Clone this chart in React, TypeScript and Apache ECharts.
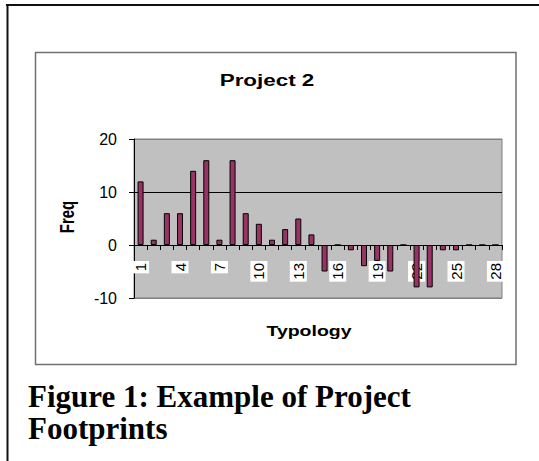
import React, { useEffect, useRef } from "react";
import * as echarts from "echarts";

const categories: string[] = Array.from({ length: 28 }, (_, i) => String(i + 1));
const freqValues: number[] = [
  12, 1, 6, 6, 14, 16, 1, 16, 6, 4, 1, 3, 5, 2,
  -5, 0, -1, -4, -3, -5, 0, -8, -8, -1, -1, 0, 0, 0,
];
const yTicks = { min: -10, max: 20, interval: 10 };
const titleText = "Project 2";
const xName = "Typology";
const yName = "Freq";
const captionLines = ["Figure 1: Example of Project", "Footprints"];

const SANS = 'Arial, "Liberation Sans", sans-serif';
const SERIF = '"Times New Roman", "Liberation Serif", serif';

const GRID_TOP = 139;
const GRID_BOTTOM = 163;
const GRID_H = 461 - GRID_TOP - GRID_BOTTOM;
// move the category axis from the grid bottom up to the value 0
const zeroOffset = -(GRID_H * (0 - yTicks.min)) / (yTicks.max - yTicks.min);

export default function App() {
  const ref = useRef<HTMLDivElement>(null);
  useEffect(() => {
    if (!ref.current) return;
    const chart = echarts.init(ref.current, undefined, { renderer: "svg" });
    chart.setOption({
      animation: false,
      backgroundColor: "#ffffff",
      grid: {
        left: 134,
        right: 37,
        top: GRID_TOP,
        bottom: GRID_BOTTOM,
        show: true,
        backgroundColor: "#c0c0c0",
        borderColor: "#808080",
        borderWidth: 1,
        containLabel: false,
      },
      xAxis: {
        type: "category",
        data: categories,
        boundaryGap: true,
        position: "bottom",
        offset: zeroOffset,
        axisLine: { show: true, onZero: false, lineStyle: { color: "#000", width: 1 } },
        axisTick: { show: true, interval: 0, alignWithLabel: false, length: 5, inside: false, lineStyle: { color: "#000" } },
        axisLabel: {
          interval: 2,
          rotate: 90,
          margin: 16,
          color: "#000",
          fontFamily: SANS,
          fontSize: 15,
          backgroundColor: "#ffffff",
          padding: [1, 2, 1, 2],
        },
        splitLine: { show: false },
      },
      yAxis: {
        type: "value",
        min: yTicks.min,
        max: yTicks.max,
        interval: yTicks.interval,
        axisLine: { show: true, onZero: false, lineStyle: { color: "#000", width: 1 } },
        axisTick: { show: true, length: 5, inside: false, lineStyle: { color: "#000" } },
        axisLabel: { margin: 17, color: "#000", fontFamily: SANS, fontSize: 16 },
        splitLine: {
          show: true,
          lineStyle: { color: ["#808080", "#000", "#000", "#808080"], width: 1 },
        },
      },
      series: [
        {
          type: "bar",
          data: freqValues,
          barWidth: 6,
          itemStyle: { color: "#993366", borderColor: "#000", borderWidth: 1 },
        },
      ],
      graphic: [
        {
          type: "line",
          shape: { x1: 6, y1: 5, x2: 539, y2: 5 },
          style: { stroke: "#111", lineWidth: 2 },
        },
        {
          type: "line",
          shape: { x1: 7.5, y1: 4, x2: 7.5, y2: 461 },
          style: { stroke: "#111", lineWidth: 2 },
        },
        {
          type: "rect",
          shape: { x: 35.5, y: 52.5, width: 480.5, height: 312 },
          style: { fill: "none", stroke: "#707070", lineWidth: 1.5 },
        },
        {
          type: "text",
          x: 267,
          y: 80.5,
          scaleX: 1.4,
          style: {
            text: titleText,
            fill: "#000",
            font: `bold 16px ${SANS}`,
            align: "center",
            verticalAlign: "middle",
          },
        },
        {
          type: "text",
          x: 309,
          y: 331,
          scaleX: 1.3,
          style: {
            text: xName,
            fill: "#000",
            font: `bold 15px ${SANS}`,
            align: "center",
            verticalAlign: "middle",
          },
        },
        {
          type: "text",
          x: 67,
          y: 217,
          rotation: Math.PI / 2,
          scaleY: 1.3,
          style: {
            text: yName,
            fill: "#000",
            font: `bold 15px ${SANS}`,
            align: "center",
            verticalAlign: "middle",
          },
        },
        {
          type: "text",
          x: 28,
          y: 396,
          style: {
            text: captionLines[0],
            fill: "#000",
            font: `bold 31px ${SERIF}`,
            align: "left",
            verticalAlign: "middle",
          },
        },
        {
          type: "text",
          x: 28,
          y: 428.5,
          style: {
            text: captionLines[1],
            fill: "#000",
            font: `bold 31px ${SERIF}`,
            align: "left",
            verticalAlign: "middle",
          },
        },
      ],
    });
    return () => chart.dispose();
  }, []);
  return (
    <div
      ref={ref}
      style={{ position: "absolute", left: 0, top: 0, width: 539, height: 461 }}
    />
  );
}
